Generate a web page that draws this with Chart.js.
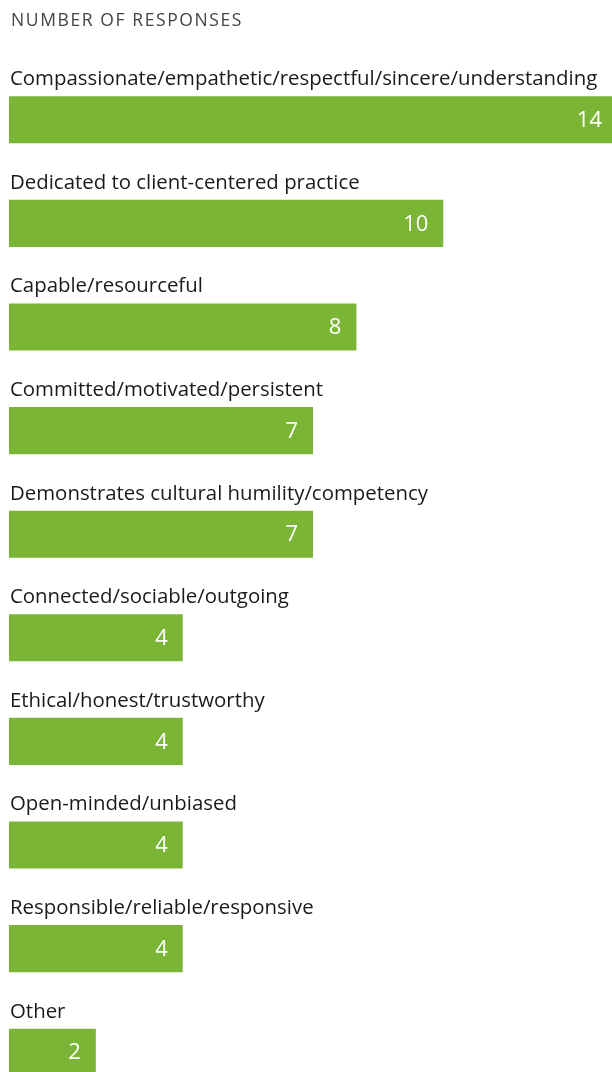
<!DOCTYPE html>
<html>
<head>
<meta charset="utf-8">
<title>Number of responses</title>
<script src="https://cdn.jsdelivr.net/npm/chart.js@4/dist/chart.umd.min.js"></script>
<style>
  html, body { margin: 0; padding: 0; background: #fff; overflow: hidden; }
  #wrap { position: absolute; left: 0; top: 0; width: 617px; height: 1104px; }
</style>
</head>
<body>
<div id="wrap"><canvas id="responsesChart" width="617" height="1104"></canvas></div>
<script>
// Qualities named by respondents and how many times each came up
const categories = [
  "Compassionate/empathetic/respectful/sincere/understanding",
  "Dedicated to client-centered practice",
  "Capable/resourceful",
  "Committed/motivated/persistent",
  "Demonstrates cultural humility/competency",
  "Connected/sociable/outgoing",
  "Ethical/honest/trustworthy",
  "Open-minded/unbiased",
  "Responsible/reliable/responsive",
  "Other"
];
const responses = [14, 10, 8, 7, 7, 4, 4, 4, 4, 2];

const chartTitle = "NUMBER OF RESPONSES";
const barColor = '#7ab536';
const fontFamily = '"Open Sans", Lato, sans-serif';

// Draws the heading, the category name above each bar and the count inside it
const barText = {
  id: 'barText',
  afterDatasetsDraw(chart) {
    const ctx = chart.ctx;
    const meta = chart.getDatasetMeta(0);
    ctx.save();

    ctx.fillStyle = '#444';
    ctx.font = '17.5px ' + fontFamily;
    ctx.textBaseline = 'middle';
    ctx.textAlign = 'left';
    if ('letterSpacing' in ctx) ctx.letterSpacing = '1.6px';
    ctx.fillText(chartTitle, 11, 21);
    if ('letterSpacing' in ctx) ctx.letterSpacing = '0px';

    meta.data.forEach((bar, i) => {
      const top = bar.y - bar.height / 2;
      ctx.fillStyle = '#1a1a1a';
      ctx.font = '20.4px ' + fontFamily;
      ctx.textAlign = 'left';
      ctx.textBaseline = 'alphabetic';
      ctx.fillText(categories[i], 10, top - 11);

      ctx.fillStyle = '#fff';
      ctx.font = '22px ' + fontFamily;
      ctx.textAlign = 'right';
      ctx.textBaseline = 'middle';
      ctx.fillText(String(responses[i]), bar.x - 15, bar.y + 1);
    });
    ctx.restore();
  }
};

const ctx = document.getElementById('responsesChart').getContext('2d');
new Chart(ctx, {
  type: 'bar',
  data: {
    labels: categories,
    datasets: [{
      data: responses,
      backgroundColor: barColor,
      borderWidth: 0,
      categoryPercentage: 1,
      barPercentage: 0.455
    }]
  },
  plugins: [barText],
  options: {
    indexAxis: 'y',
    responsive: false,
    animation: false,
    layout: { padding: { top: 68, left: 9, right: 0, bottom: 0 } },
    plugins: {
      legend: { display: false },
      tooltip: { enabled: false }
    },
    scales: {
      x: { display: false, min: 0, max: 14 },
      y: { display: false }
    }
  }
});
</script>
</body>
</html>
